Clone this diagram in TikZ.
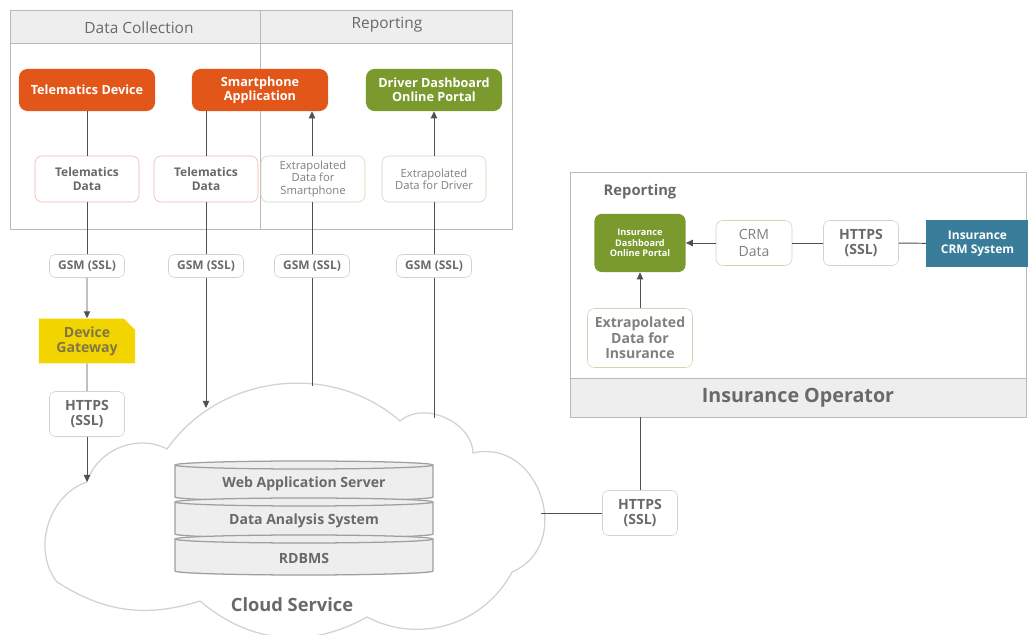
\documentclass[tikz,border=0pt]{standalone}
\usepackage{fontspec}
\setmainfont{Open Sans}
\usetikzlibrary{arrows.meta,shapes.misc}
\definecolor{tmorange}{RGB}{226,86,26}
\definecolor{portalgreen}{RGB}{122,154,46}
\definecolor{gwyellow}{RGB}{242,212,0}
\definecolor{gwtext}{RGB}{128,118,72}
\definecolor{crmblue}{RGB}{58,125,155}
\definecolor{textgray}{RGB}{105,105,105}
\definecolor{linegray}{RGB}{80,80,80}
\definecolor{datared}{RGB}{238,180,170}
\definecolor{datagreen}{RGB}{200,218,180}
\definecolor{panelgray}{RGB}{238,238,238}
\tikzset{%
  panel/.style={draw=gray!55,line width=0.6pt},
  heading/.style={text=textgray,font=\fontsize{11}{13}\selectfont},
  device/.style={rectangle,rounded corners=6pt,fill=tmorange,text=white,
    font=\bfseries\fontsize{9}{10}\selectfont,align=center,
    minimum width=3.4cm,minimum height=1.05cm,inner sep=1pt},
  portal/.style={device,fill=portalgreen},
  rawdata/.style={rectangle,rounded corners=5pt,draw=datared,fill=white,text=textgray,
    font=\bfseries\fontsize{8.5}{9.5}\selectfont,align=center,
    minimum width=2.6cm,minimum height=1.15cm,inner sep=1pt},
  extdata/.style={rawdata,draw=datagreen,text=textgray!85,
    font=\fontsize{8}{8.6}\selectfont},
  channel/.style={rectangle,rounded corners=4pt,draw=gray!35,fill=white,text=textgray,
    font=\bfseries\fontsize{8.5}{9.5}\selectfont,align=center,
    minimum width=1.875cm,minimum height=0.575cm,inner sep=1pt},
  secure/.style={channel,font=\bfseries\fontsize{10}{11}\selectfont,minimum height=1.125cm},
  gateway/.style={chamfered rectangle,chamfered rectangle corners=north east,
    chamfered rectangle xsep=4pt,chamfered rectangle ysep=4pt,fill=gwyellow,text=gwtext,
    font=\bfseries\fontsize{10}{10.5}\selectfont,align=center,
    minimum width=2.4cm,minimum height=1.12cm,inner sep=1pt},
  crm/.style={rectangle,fill=crmblue,text=white,font=\bfseries\fontsize{8.5}{10}\selectfont,
    align=center,minimum width=2.55cm,minimum height=1.18cm,inner sep=1pt},
  dblayer/.style={draw=gray!75,line width=0.9pt,fill=gray!13},
  dbtext/.style={text=textgray,font=\bfseries\fontsize{10}{12}\selectfont},
  link/.style={draw=linegray,line width=0.7pt},
  flow/.style={link,-{Triangle[length=5pt,width=4.5pt]}}
}
\begin{document}
\begin{tikzpicture}[x=0.025cm,y=0.025cm]
  \useasboundingbox (0,0) rectangle (1028,-635);

  % driver side panel
  \draw[panel,fill=panelgray] (10,-10) rectangle (512,-43);
  \draw[panel] (10,-10) rectangle (512,-229);
  \draw[panel] (260,-10) -- (260,-229);
  \node[heading] (collect) at (139,-28) {Data Collection};
  \node[heading] (report) at (387,-25) {Reporting};

  % insurance side panel
  \draw[panel] (570,-172) rectangle (1026,-417);
  \node[panel,fill=panelgray,minimum width=11.4cm,minimum height=0.975cm,text=textgray,
    font=\bfseries\fontsize{14}{16}\selectfont] (oper) at (798,-397.5) {Insurance Operator};
  \node[text=textgray,font=\bfseries\fontsize{10.5}{12}\selectfont] (irep) at (640,-192) {Reporting};

  % cloud
  \draw[draw=gray!35,line width=0.9pt,fill=white]
    (57,-582) to[bend left=55] (87,-482) to[bend left=50] (167,-449)
    to[bend left=48] (400,-421) to[bend left=65] (473,-453)
    to[bend left=85,looseness=1.4] (512,-572) to[bend left=45] (367,-617)
    to[bend left=35] (200,-601) to[bend left=25] (57,-582) -- cycle;
  \node[text=textgray,font=\bfseries\fontsize{13}{15}\selectfont] (cloudtxt) at (292,-605) {Cloud Service};
  \coordinate (c1) at (87,-482);
  \coordinate (c2) at (206,-408);
  \coordinate (c3) at (312,-386);
  \coordinate (c4) at (434,-418);
  \coordinate (c5) at (541,-513);

  % database stack
  \foreach \name/\txt [count=\i] in {web/Web Application Server,das/Data Analysis System,rdb/RDBMS}{
    \pgfmathsetmacro\ly{465+37*(\i-1)}
    \filldraw[dblayer] (175,-\ly) -- (175,-\ly-32)
      arc[start angle=180,end angle=360,x radius=129,y radius=4]
      -- (433,-\ly) arc[start angle=0,end angle=180,x radius=129,y radius=4] -- cycle;
    \draw[dblayer] (175,-\ly) arc[start angle=180,end angle=360,x radius=129,y radius=4];
    \node[dbtext] (\name) at (304,-\ly-19) {\txt};
  }

  % top row
  \node[device] (tdev) at (87,-90) {Telematics Device};
  \node[device] (sapp) at (260,-90) {Smartphone\\Application};
  \node[portal] (dport) at (434,-90) {Driver Dashboard\\Online Portal};

  \node[rawdata] (tdata1) at (87,-179) {Telematics\\Data};
  \node[rawdata] (tdata2) at (206,-179) {Telematics\\Data};
  \node[extdata] (exsp) at (313,-179) {Extrapolated\\Data for\\Smartphone};
  \node[extdata] (exdrv) at (434,-179) {Extrapolated\\Data for Driver};

  \node[channel] (gsm1) at (87,-266) {GSM (SSL)};
  \node[channel] (gsm2) at (206,-266) {GSM (SSL)};
  \node[channel] (gsm3) at (312,-266) {GSM (SSL)};
  \node[channel] (gsm4) at (434,-266) {GSM (SSL)};

  \node[gateway] (gw) at (87,-341) {Device\\Gateway};
  \node[secure] (https1) at (87,-414) {HTTPS\\(SSL)};

  % insurance nodes
  \node[portal,rounded corners=5pt,minimum width=2.275cm,minimum height=1.45cm,
    font=\bfseries\fontsize{6.5}{7.5}\selectfont] (idash) at (640,-243) {Insurance\\Dashboard\\Online Portal};
  \node[extdata,minimum width=1.9cm,minimum height=1.125cm,
    font=\fontsize{10}{12}\selectfont] (crmdata) at (754,-243) {CRM\\Data};
  \node[secure] (https3) at (861,-243) {HTTPS\\(SSL)};
  \node[crm] (crmsys) at (977.5,-243.5) {Insurance\\CRM System};
  \node[extdata,minimum width=2.625cm,minimum height=1.475cm,
    font=\bfseries\fontsize{10}{11}\selectfont] (exins) at (640,-338) {Extrapolated\\Data for\\Insurance};
  \node[secure] (https2) at (640,-513) {HTTPS\\(SSL)};

  % connectors
  \draw[link] (tdev) -- (tdata1);
  \draw[link] (tdata1) -- (gsm1);
  \draw[flow] (gsm1) -- (gw);
  \draw[link] (gw) -- (https1);
  \draw[flow] (https1) -- (c1);

  \draw[link] (tdata2 |- sapp.south) -- (tdata2);
  \draw[link] (tdata2) -- (gsm2);
  \draw[flow] (gsm2) -- (c2);

  \draw[link] (c3) -- (gsm3);
  \draw[link] (gsm3) -- (gsm3 |- exsp.south);
  \draw[flow] (gsm3 |- exsp.north) -- (gsm3 |- sapp.south);

  \draw[link] (c4) -- (gsm4);
  \draw[link] (gsm4) -- (exdrv);
  \draw[flow] (exdrv) -- (dport);

  \draw[link] (c5) -- (https2);
  \draw[link] (https2) -- (https2 |- oper.south);
  \draw[flow] (exins) -- (idash);
  \draw[link] (crmsys) -- (https3);
  \draw[link] (https3) -- (crmdata);
  \draw[flow] (crmdata) -- (idash);
\end{tikzpicture}
\end{document}
